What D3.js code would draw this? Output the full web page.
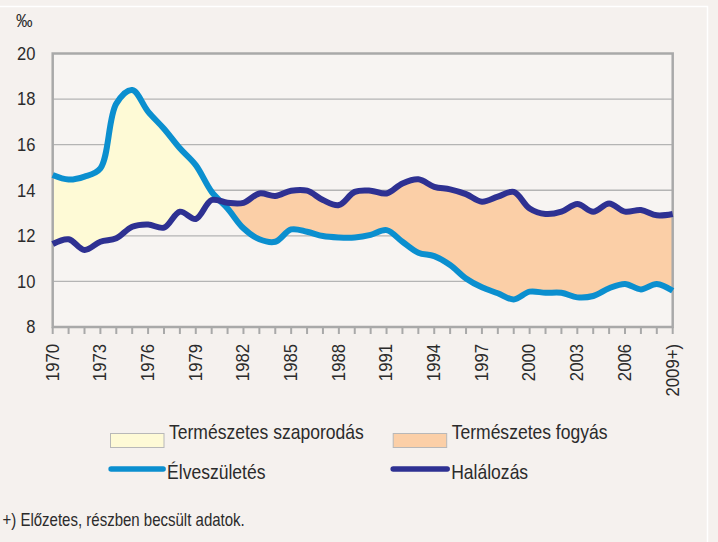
<!DOCTYPE html>
<html>
<head>
<meta charset="utf-8">
<script src="https://cdn.jsdelivr.net/npm/d3@7"></script>
<style>
  body { margin: 0; background: #f5f1ee; }
  svg { display: block; }
  text { font-family: "Liberation Sans", Arial, sans-serif; fill: #2b2b2b; }
</style>
</head>
<body>
<div id="container"></div>
<script>
/* DATA */
const years = d3.range(1970, 2010);
// live births per 1000 (Élveszületés)
const births = [14.67, 14.47, 14.6, 14.96, 17.8, 18.4, 17.45, 16.7, 15.84, 15.1,
  13.93, 13.2, 12.33, 11.85, 11.74, 12.28, 12.18, 11.99, 11.93, 11.93,
  12.04, 12.25, 11.74, 11.26, 11.11, 10.72, 10.13, 9.74, 9.48, 9.21,
  9.55, 9.5, 9.5, 9.3, 9.36, 9.7, 9.89, 9.65, 9.89, 9.59];
// deaths per 1000 (Halálozás)
const deaths = [11.64, 11.85, 11.38, 11.74, 11.89, 12.4, 12.5, 12.36, 13.06, 12.74,
  13.57, 13.45, 13.45, 13.86, 13.75, 13.98, 13.98, 13.57, 13.35, 13.93,
  13.98, 13.86, 14.3, 14.48, 14.15, 14.04, 13.83, 13.5, 13.72, 13.93,
  13.2, 12.96, 13.06, 13.4, 13.06, 13.42, 13.06, 13.13, 12.9, 12.96];
const yTicks = [8, 10, 12, 14, 16, 18, 20];
const labelYears = [1970, 1973, 1976, 1979, 1982, 1985, 1988, 1991, 1994, 1997, 2000, 2003, 2006, 2009];
const labelText = y => y === 2009 ? "2009+)" : String(y);

const data = years.map((y, i) => ({ year: y, birth: births[i], death: deaths[i] }));

/* CONSTANTS */
const width = 718, height = 542,
  margin = { top: 53.5, bottom: 215, left: 52.7, right: 45.3 };

const blue = "#0b8fcf", navy = "#2e3192",
  yellowFill = "#fefad6", orangeFill = "#fbcfa7";

const svg = d3.select("#container")
  .append("svg")
  .attr("width", width)
  .attr("height", height);

// squeezed text helper (the original uses a narrow face)
function addText(parent, x, y, str, size, sx, anchor = "start", rot = 0) {
  return parent.append("text")
    .attr("transform", `translate(${x},${y}) rotate(${rot}) scale(${sx},1)`)
    .attr("text-anchor", anchor)
    .style("font-size", size + "px")
    .text(str);
}

// background + white frame
svg.append("rect").attr("width", width).attr("height", height).attr("fill", "#f5f1ee");
svg.append("path")
  .attr("d", `M0,6.5 H707.5 V${height}`)
  .attr("fill", "none").attr("stroke", "#ffffff").attr("stroke-width", 1.5);

/* SCALES */
const x = d3.scaleLinear().domain([1970, 2009]).range([margin.left, width - margin.right]);
const y = d3.scaleLinear().domain([8, 20]).range([height - margin.bottom, margin.top]);

const x0 = x.range()[0], x1 = x.range()[1], yTop = y(20), yBot = y(8);

// plot background
svg.append("rect")
  .attr("x", x0).attr("y", yTop).attr("width", x1 - x0).attr("height", yBot - yTop)
  .attr("fill", "#f7f4f2");

// gridlines
svg.append("g")
  .selectAll("line")
  .data(yTicks.filter(d => d > 8 && d < 20))
  .join("line")
  .attr("x1", x0).attr("x2", x1)
  .attr("y1", d => y(d)).attr("y2", d => y(d))
  .attr("stroke", "#b4b4b4").attr("stroke-width", 1.3);

const curve = d3.curveCatmullRom.alpha(0.5);

// clip paths for the two fill regions
const defs = svg.append("defs");
defs.append("clipPath").attr("id", "belowBirth")
  .append("path")
  .attr("d", d3.area().curve(curve).x(d => x(d.year)).y0(yBot).y1(d => y(d.birth))(data));
defs.append("clipPath").attr("id", "belowDeath")
  .append("path")
  .attr("d", d3.area().curve(curve).x(d => x(d.year)).y0(yBot).y1(d => y(d.death))(data));

// natural increase: above death, below birth
svg.append("path")
  .attr("d", d3.area().curve(curve).x(d => x(d.year)).y0(yTop).y1(d => y(d.death))(data))
  .attr("clip-path", "url(#belowBirth)")
  .attr("fill", yellowFill);

// natural decrease: above birth, below death
svg.append("path")
  .attr("d", d3.area().curve(curve).x(d => x(d.year)).y0(yTop).y1(d => y(d.birth))(data))
  .attr("clip-path", "url(#belowDeath)")
  .attr("fill", orangeFill);

// plot border
svg.append("rect")
  .attr("x", x0).attr("y", yTop).attr("width", x1 - x0).attr("height", yBot - yTop)
  .attr("fill", "none").attr("stroke", "#a9a9a9").attr("stroke-width", 2.5);

// lines
const line = key => d3.line().curve(curve).x(d => x(d.year)).y(d => y(d[key]));
svg.append("path").datum(data)
  .attr("d", line("birth"))
  .attr("fill", "none").attr("stroke", blue).attr("stroke-width", 6);
svg.append("path").datum(data)
  .attr("d", line("death"))
  .attr("fill", "none").attr("stroke", navy).attr("stroke-width", 6);

// x ticks every year
svg.append("g")
  .selectAll("line")
  .data(years)
  .join("line")
  .attr("x1", d => x(d)).attr("x2", d => x(d))
  .attr("y1", yBot).attr("y2", yBot + 7)
  .attr("stroke", "#a9a9a9").attr("stroke-width", 2);

// x labels (rotated)
const xLab = svg.append("g");
labelYears.forEach(d => addText(xLab, x(d) + 5.8, 344, labelText(d), 19, 0.88, "end", -90));

// y labels
const yLab = svg.append("g");
yTicks.forEach(d => addText(yLab, 35.5, y(d) + 6.3, d, 18, 0.92, "end"));

addText(svg, 16, 26.5, "‰", 18, 0.92);

/* LEGEND */
const legend = svg.append("g");
const swatches = [
  { label: "Természetes szaporodás", fill: yellowFill, x: 110.5 },
  { label: "Természetes fogyás", fill: orangeFill, x: 393.2 }
];
swatches.forEach(s => {
  legend.append("rect")
    .attr("x", s.x).attr("y", 433.5).attr("width", 53.5).attr("height", 14)
    .attr("fill", s.fill).attr("stroke", "#b8b8b8").attr("stroke-width", 1);
  addText(legend, s.x + 58.5, 438.6, s.label, 21, 0.835);
});
const lineKeys = [
  { label: "Élveszületés", color: blue, x: 108.6, w: 57 },
  { label: "Halálozás", color: navy, x: 390.7, w: 59 }
];
lineKeys.forEach(s => {
  legend.append("line")
    .attr("x1", s.x + 2.5).attr("x2", s.x + s.w - 2.5)
    .attr("y1", 469).attr("y2", 469)
    .attr("stroke", s.color).attr("stroke-width", 5.5).attr("stroke-linecap", "round");
  addText(legend, s.x + s.w + 1.5, 478.6, s.label, 21, 0.835);
});

// footnote
addText(svg, 2.5, 526, "+) Előzetes, részben becsült adatok.", 18, 0.834);
</script>
</body>
</html>
